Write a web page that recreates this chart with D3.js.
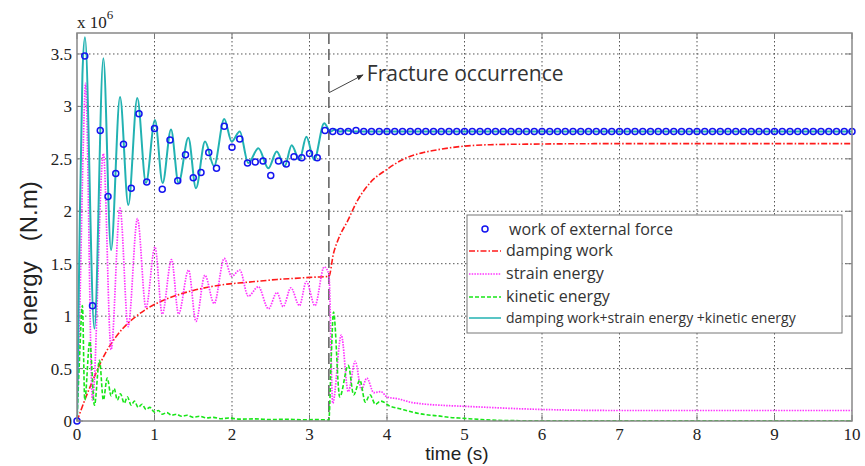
<!DOCTYPE html>
<meta charset="utf-8">
<style>
body { margin: 0; background: #fff; }
svg { display: block; }
.ticklab { font: 17px "Liberation Serif", "Times New Roman", serif; fill: #222; }
.grid line { stroke: #555; stroke-width: 1; stroke-dasharray: 1.5,2.5; }
.axlab { font-family: "Liberation Sans", Arial, sans-serif; fill: #222; }
.legtext { font-family: "Open Sans", "Noto Sans", sans-serif; fill: #333; }
</style>
<body>
<script src="https://d3js.org/d3.v7.min.js"></script>
<script>
// values, time in s, energy in 10^6 N.m

// work of external force, one marker every 0.1 s
var workTime = d3.range(0, 101).map(function(i) { return i / 10; });
var workValue = [
  0, 3.48, 1.10, 2.77, 2.14, 2.36, 2.64, 2.22, 2.93, 2.28,
  2.79, 2.21, 2.68, 2.29, 2.54, 2.32, 2.37, 2.56, 2.41, 2.81,
  2.61, 2.69, 2.46, 2.47, 2.48, 2.34, 2.48, 2.45, 2.52, 2.51,
  2.55, 2.51, 2.77, 2.76, 2.76, 2.76, 2.77, 2.76, 2.76, 2.76,
  2.76, 2.76, 2.76, 2.76, 2.76, 2.76, 2.76, 2.76, 2.76, 2.76,
  2.76, 2.76, 2.76, 2.76, 2.76, 2.76, 2.76, 2.76, 2.76, 2.76,
  2.76, 2.76, 2.76, 2.76, 2.76, 2.76, 2.76, 2.76, 2.76, 2.76,
  2.76, 2.76, 2.76, 2.76, 2.76, 2.76, 2.76, 2.76, 2.76, 2.76,
  2.76, 2.76, 2.76, 2.76, 2.76, 2.76, 2.76, 2.76, 2.76, 2.76,
  2.76, 2.76, 2.76, 2.76, 2.76, 2.76, 2.76, 2.76, 2.76, 2.76,
  2.76
];

// damping work
var dampTime  = [0, 0.05, 0.1, 0.2, 0.3, 0.4, 0.5, 0.6, 0.75, 0.9, 1.08, 1.29, 1.5, 1.72, 1.94, 2.15, 2.37, 2.58, 2.8, 3.01, 3.25,
                 3.31, 3.37, 3.5, 3.61, 3.78, 4.0, 4.25, 4.47, 4.68, 4.98, 5.33, 5.8, 7, 10];
var dampValue = [0, 0.1, 0.2, 0.38, 0.55, 0.69, 0.8, 0.89, 0.99, 1.07, 1.14, 1.2, 1.245, 1.28, 1.305, 1.32, 1.335, 1.35, 1.36, 1.37, 1.38,
                 1.6, 1.73, 1.92, 2.09, 2.27, 2.40, 2.51, 2.56, 2.59, 2.62, 2.635, 2.64, 2.645, 2.645];

// strain energy
var strainTime  = [0, 0.04, 0.08, 0.11, 0.2, 0.34, 0.44, 0.555, 0.66, 0.78, 0.89, 1.006, 1.1, 1.22, 1.31, 1.44, 1.535, 1.65, 1.77,
                   1.9, 1.996, 2.1, 2.21, 2.34, 2.47, 2.58, 2.66, 2.76, 2.87, 2.96, 3.07, 3.19, 3.25, 3.3, 3.41, 3.5, 3.59,
                   3.67, 3.74, 3.83, 3.92, 4.0, 4.15, 4.3, 4.5, 4.7, 5.0, 5.3, 5.6, 6.0, 7, 8, 9, 10];
var strainValue = [0, 1.2, 2.6, 3.22, 0.2, 2.55, 0.68, 2.03, 0.9, 1.93, 1.08, 1.66, 1.02, 1.54, 1.02, 1.44, 0.95, 1.39, 1.12,
                   1.55, 1.38, 1.44, 1.19, 1.28, 1.07, 1.225, 1.09, 1.27, 1.1, 1.33, 1.1, 1.47, 1.4, 0.17, 0.82, 0.28, 0.57,
                   0.3, 0.41, 0.27, 0.28, 0.23, 0.21, 0.18, 0.16, 0.15, 0.14, 0.13, 0.12, 0.11, 0.1, 0.1, 0.1, 0.1];

// kinetic energy
var kinTime  = [0, 0.03, 0.07, 0.1, 0.165, 0.225, 0.29, 0.34, 0.39, 0.44, 0.48, 0.52, 0.56, 0.61, 0.65, 0.7, 0.74, 0.79, 0.84,
                0.89, 0.94, 1.0, 1.05, 1.1, 1.16, 1.22, 1.28, 1.35, 1.42, 1.5, 1.58, 1.67, 1.76, 1.86, 1.96, 2.1, 2.3, 2.5,
                2.7, 2.9, 3.1, 3.25, 3.28, 3.31, 3.39, 3.5, 3.57, 3.65, 3.72, 3.78, 3.85, 3.92, 4.04, 4.15, 4.3, 4.5, 4.65,
                4.8, 5.0, 5.2, 5.5, 6, 10];
var kinValue = [0, 0.55, 1.1, 0.2, 0.76, 0.15, 0.58, 0.2, 0.41, 0.24, 0.31, 0.2, 0.26, 0.17, 0.23, 0.15, 0.19, 0.13, 0.16,
                0.11, 0.13, 0.085, 0.1, 0.065, 0.08, 0.055, 0.065, 0.045, 0.055, 0.035, 0.045, 0.03, 0.035, 0.022, 0.028, 0.018, 0.02, 0.014,
                0.016, 0.012, 0.013, 0.01, 0.6, 1.04, 0.23, 0.53, 0.25, 0.39, 0.18, 0.25, 0.16, 0.19, 0.14, 0.12, 0.09, 0.06, 0.05,
                0.035, 0.025, 0.015, 0.005, 0.002, 0.002];

// damping work + strain energy + kinetic energy
var totalTime  = [0, 0.03, 0.07, 0.103, 0.224, 0.34, 0.439, 0.555, 0.662, 0.778, 0.89, 1.006, 1.105, 1.213, 1.31, 1.437, 1.535,
                  1.652, 1.768, 1.9, 1.996, 2.1, 2.21, 2.34, 2.47, 2.577, 2.68, 2.77, 2.87, 2.96, 3.06, 3.19, 3.27, 3.33, 3.4,
                  3.48, 3.56, 4, 10];
var totalValue = [0, 1.6, 3.3, 3.66, 0.88, 3.46, 1.63, 3.09, 2.06, 3.08, 2.27, 2.87, 2.27, 2.78, 2.27, 2.7, 2.22,
                  2.665, 2.43, 2.88, 2.665, 2.76, 2.46, 2.6, 2.41, 2.57, 2.43, 2.63, 2.49, 2.71, 2.49, 2.84, 2.76, 2.78, 2.76,
                  2.77, 2.76, 2.76, 2.76];

var xTicks = [0, 1, 2, 3, 4, 5, 6, 7, 8, 9, 10];
var yTicks = [0, 0.5, 1, 1.5, 2, 2.5, 3, 3.5];
var yTickLabels = ["0", "0.5", "1", "1.5", "2", "2.5", "3", "3.5"];
var fractureTime = 3.25;

var legendLabels = ["work of external force", "damping work", "strain energy", "kinetic energy",
                    "damping work+strain energy +kinetic energy"];

var width = 865, height = 466;
var margin = {top: 33, right: 13, bottom: 45, left: 77};
var w = width - margin.left - margin.right,
    h = height - margin.top - margin.bottom;

var svg = d3.select("body").append("svg")
    .attr("width", width)
    .attr("height", height);

var g = svg.append("g").attr("transform", "translate(" + margin.left + "," + margin.top + ")");

var x = d3.scaleLinear().domain([0, 10]).range([0, w]);
var y = d3.scaleLinear().domain([0, 3.7]).range([h, 0]);

// grid
g.append("g").attr("class", "grid")
    .selectAll("line").data(xTicks.slice(1, -1)).enter().append("line")
    .attr("x1", x).attr("x2", x).attr("y1", 0).attr("y2", h);
g.append("g").attr("class", "grid")
    .selectAll("line").data(yTicks.slice(1)).enter().append("line")
    .attr("y1", y).attr("y2", y).attr("x1", 0).attr("x2", w);

// tick marks on all four sides, pointing in
var tickLen = 6;
var ticks = g.append("g").attr("stroke", "#777").attr("stroke-width", 1);
xTicks.forEach(function(d) {
  ticks.append("line").attr("x1", x(d)).attr("x2", x(d)).attr("y1", h).attr("y2", h - tickLen);
  ticks.append("line").attr("x1", x(d)).attr("x2", x(d)).attr("y1", 0).attr("y2", tickLen);
});
yTicks.forEach(function(d) {
  ticks.append("line").attr("y1", y(d)).attr("y2", y(d)).attr("x1", 0).attr("x2", tickLen);
  ticks.append("line").attr("y1", y(d)).attr("y2", y(d)).attr("x1", w).attr("x2", w - tickLen);
});

// tick labels
g.append("g").selectAll("text").data(xTicks).enter().append("text")
    .attr("class", "ticklab")
    .attr("x", x).attr("y", h + 19)
    .attr("text-anchor", "middle")
    .text(function(d) { return d; });
g.append("g").selectAll("text").data(yTicks).enter().append("text")
    .attr("class", "ticklab")
    .attr("x", -5).attr("y", function(d) { return y(d) + 6; })
    .attr("text-anchor", "end")
    .text(function(d, i) { return yTickLabels[i]; });

var mult = g.append("text").attr("class", "ticklab").attr("x", 0).attr("y", -5);
mult.append("tspan").text("x 10");
mult.append("tspan").attr("dy", -9).attr("font-size", 13).text("6");

// clip to the axes box
svg.append("defs").append("clipPath").attr("id", "clip")
  .append("rect").attr("width", w).attr("height", h);

var plot = g.append("g").attr("clip-path", "url(#clip)");

function series(tArr, vArr) {
  return tArr.map(function(t, i) { return [t, vArr[i]]; });
}
var line = d3.line()
    .x(function(d) { return x(d[0]); })
    .y(function(d) { return y(d[1]); })
    .curve(d3.curveMonotoneX);

// fracture marker
plot.append("line")
    .attr("x1", x(fractureTime)).attr("x2", x(fractureTime))
    .attr("y1", 0).attr("y2", h)
    .attr("stroke", "#666").attr("stroke-width", 1.6)
    .attr("stroke-dasharray", "11,5");

var styles = [
  {color: "#1414f0"},
  {color: "#ff1a1a", dash: "6,2,1.5,2"},
  {color: "#ff33ff", dash: "1.5,1.2"},
  {color: "#19e619", dash: "4,2"},
  {color: "#22b2b2"}
];

plot.append("path").datum(series(dampTime, dampValue))
    .attr("d", line).attr("fill", "none")
    .attr("stroke", styles[1].color).attr("stroke-width", 1.6).attr("stroke-dasharray", styles[1].dash);
plot.append("path").datum(series(strainTime, strainValue))
    .attr("d", line).attr("fill", "none")
    .attr("stroke", styles[2].color).attr("stroke-width", 1.7).attr("stroke-dasharray", styles[2].dash);
plot.append("path").datum(series(kinTime, kinValue))
    .attr("d", line).attr("fill", "none")
    .attr("stroke", styles[3].color).attr("stroke-width", 1.6).attr("stroke-dasharray", styles[3].dash);
plot.append("path").datum(series(totalTime, totalValue))
    .attr("d", line).attr("fill", "none")
    .attr("stroke", styles[4].color).attr("stroke-width", 2);

g.append("g").selectAll("circle").data(series(workTime, workValue)).enter().append("circle")
    .attr("cx", function(d) { return x(d[0]); })
    .attr("cy", function(d) { return y(d[1]); })
    .attr("r", 3)
    .attr("fill", "none")
    .attr("stroke", styles[0].color)
    .attr("stroke-width", 1.5);

// axes box
g.append("rect").attr("width", w).attr("height", h)
    .attr("fill", "none").attr("stroke", "#888").attr("stroke-width", 1.5);

// annotation
svg.append("defs").append("marker")
    .attr("id", "arrow").attr("viewBox", "0 0 10 10")
    .attr("refX", 9).attr("refY", 5)
    .attr("markerWidth", 7).attr("markerHeight", 7)
    .attr("orient", "auto")
  .append("path").attr("d", "M0,1 L10,5 L0,9 z").attr("fill", "#333");

g.append("line")
    .attr("x1", x(fractureTime)).attr("y1", y(3.13))
    .attr("x2", x(3.69)).attr("y2", y(3.3))
    .attr("stroke", "#444").attr("stroke-width", 1)
    .attr("marker-end", "url(#arrow)");
g.append("text").attr("class", "legtext")
    .attr("x", x(3.74)).attr("y", y(3.24))
    .attr("font-size", 21).attr("fill", "#222")
    .text("Fracture occurrence");

// legend
var leg = svg.append("g").attr("transform", "translate(467,215)");
leg.append("rect").attr("width", 375).attr("height", 118)
    .attr("fill", "#fff").attr("stroke", "#777").attr("stroke-width", 1);
var rowY = [15, 36, 59, 82, 103];
legendLabels.forEach(function(lab, i) {
  var ry = rowY[i];
  if (i === 0) {
    leg.append("circle").attr("cx", 18).attr("cy", ry - 1).attr("r", 3)
        .attr("fill", "none").attr("stroke", styles[0].color).attr("stroke-width", 1.5);
  } else {
    leg.append("line").attr("x1", 2).attr("x2", 34).attr("y1", ry).attr("y2", ry)
        .attr("stroke", styles[i].color).attr("stroke-width", 1.5)
        .attr("stroke-dasharray", styles[i].dash || null);
  }
  leg.append("text").attr("class", "legtext")
      .attr("x", i === 0 ? 42 : 39).attr("y", ry + 5)
      .attr("font-size", i === 4 ? 14 : 16)
      .text(lab);
});

// axis titles
svg.append("text").attr("class", "axlab")
    .attr("transform", "translate(37,258) rotate(-90)")
    .attr("text-anchor", "middle")
    .attr("font-size", 24)
    .attr("xml:space", "preserve")
    .text("energy   (N.m)");
svg.append("text").attr("class", "axlab")
    .attr("x", 457).attr("y", 460)
    .attr("text-anchor", "middle")
    .attr("font-size", 19)
    .text("time (s)");
</script>
</body>
